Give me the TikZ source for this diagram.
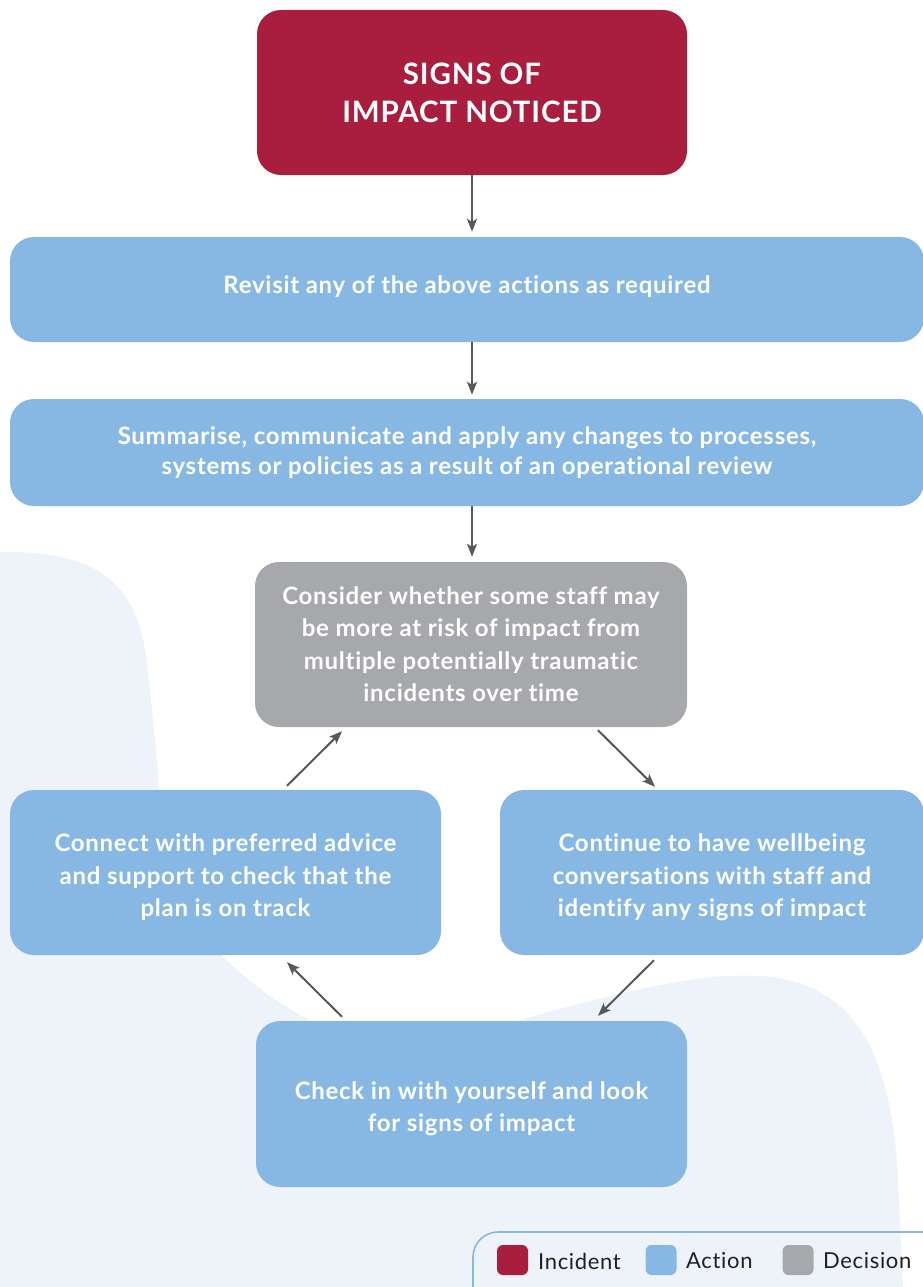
\documentclass[tikz,border=0pt]{standalone}
\usepackage{fontspec}
\setmainfont{Lato}[Ligatures=NoCommon, LetterSpace=3]
\usetikzlibrary{arrows.meta,calc}
\definecolor{incidentred}{HTML}{A91D3F}
\definecolor{actionblue}{HTML}{87B8E3}
\definecolor{decisiongrey}{HTML}{A7A8AC}
\definecolor{blobblue}{HTML}{EEF3FA}
\definecolor{arrowgrey}{HTML}{58595B}
\definecolor{legendtext}{HTML}{231F20}
% a block of centred lines, drawn moved up or down by #1 without changing its size
\newcommand{\shiftedlines}[2]{\raisebox{#1}[\height][\depth]{\begin{tabular}{@{}c@{}}#2\end{tabular}}}
\tikzset{
  box/.style={rounded corners=24pt, inner sep=0pt, align=center, text=white,
    font=\fontsize{24}{32.5}\selectfont\bfseries},
  incidentbox/.style={box, fill=incidentred, font=\fontsize{29.5}{38}\selectfont\bfseries},
  actionbox/.style={box, fill=actionblue},
  decisionbox/.style={box, fill=decisiongrey},
  flow/.style={draw=arrowgrey, line width=2pt, -{Stealth[length=13pt,width=10pt,inset=3pt]}},
  keysquare/.style={minimum width=31pt, minimum height=30pt, inner sep=0pt, rounded corners=6pt},
  keytext/.style={anchor=west, inner sep=0pt, text=legendtext, font=\fontsize{22}{24}\selectfont}
}
\begin{document}
\begin{tikzpicture}[x=1pt,y=-1pt]
\path[use as bounding box, clip] (0,0) rectangle (923,1287);

% soft background shape
\fill[blobblue] (0,552) .. controls (100,550) and (138,585) .. (147,663)
  .. controls (153,715) and (157,760) .. (162,820)
  .. controls (172,900) and (195,930) .. (222,956)
  .. controls (255,988) and (290,1012) .. (330,1030)
  -- (480,1030) -- (520,1020)
  .. controls (620,992) and (700,972) .. (760,976)
  .. controls (860,982) and (895,1060) .. (899,1200)
  -- (903,1287) -- (0,1287) -- cycle;

% process boxes
\node[incidentbox, minimum width=430pt, minimum height=165pt] (inc) at (472,92.5)
  {SIGNS OF\\IMPACT NOTICED};
\node[actionbox, minimum width=914pt, minimum height=105pt] (rev) at (467,289.5)
  {\shiftedlines{3pt}{Revisit any of the above actions as required}};
\node[actionbox, minimum width=914pt, minimum height=107pt, font=\fontsize{24}{30}\selectfont\bfseries] (sum) at (467,452.5)
  {Summarise, communicate and apply any changes to processes,\\systems or policies as a result of an operational review};
\node[decisionbox, minimum width=432pt, minimum height=165pt] (dec) at (471,644.5)
  {\shiftedlines{-2pt}{Consider whether some staff may\\be more at risk of impact from\\multiple potentially traumatic\\incidents over time}};
\node[actionbox, minimum width=431pt, minimum height=165pt] (conn) at (225.5,872.5)
  {\shiftedlines{-5pt}{Connect with preferred advice\\and support to check that the\\plan is on track}};
\node[actionbox, minimum width=424pt, minimum height=165pt] (cont) at (712,872.5)
  {\shiftedlines{-5pt}{Continue to have wellbeing\\conversations with staff and\\identify any signs of impact}};
\node[actionbox, minimum width=431pt, minimum height=166pt] (check) at (471.5,1104)
  {\shiftedlines{-5pt}{Check in with yourself and look\\for signs of impact}};

% connectors
\draw[flow, shorten >=5pt] (inc.south) -- (inc.south |- rev.north);
\draw[flow, shorten >=4pt] (rev.south -| inc.south) -- (sum.north -| inc.south);
\draw[flow, shorten >=5pt] (sum.south -| inc.south) -- (dec.north -| inc.south);
\draw[flow] ([shift={(127,3)}]dec.south) -- ([shift={(-57,-3)}]cont.north);
\draw[flow] ([shift={(-58,5)}]cont.south) -- ([shift={(126.5,-5)}]check.north);
\draw[flow] ([shift={(-129.5,-4)}]check.north) -- ([shift={(61.5,7)}]conn.south);
\draw[flow] ([shift={(61.5,-4)}]conn.north) -- ([shift={(-129,4)}]dec.south);

% key
\draw[actionblue, line width=1.6pt, rounded corners=25pt] (473,1232) rectangle (960,1330);
\node[keysquare, fill=incidentred] (kinc) at (512.5,1260) {};
\node[keytext] (kinct) at (538,1261) {Incident};
\node[keysquare, fill=actionblue] (kact) at (661,1260) {};
\node[keytext] (kactt) at (686,1261) {Action};
\node[keysquare, fill=decisiongrey] (kdec) at (798,1260) {};
\node[keytext] (kdect) at (823,1261) {Decision};
\end{tikzpicture}
\end{document}
